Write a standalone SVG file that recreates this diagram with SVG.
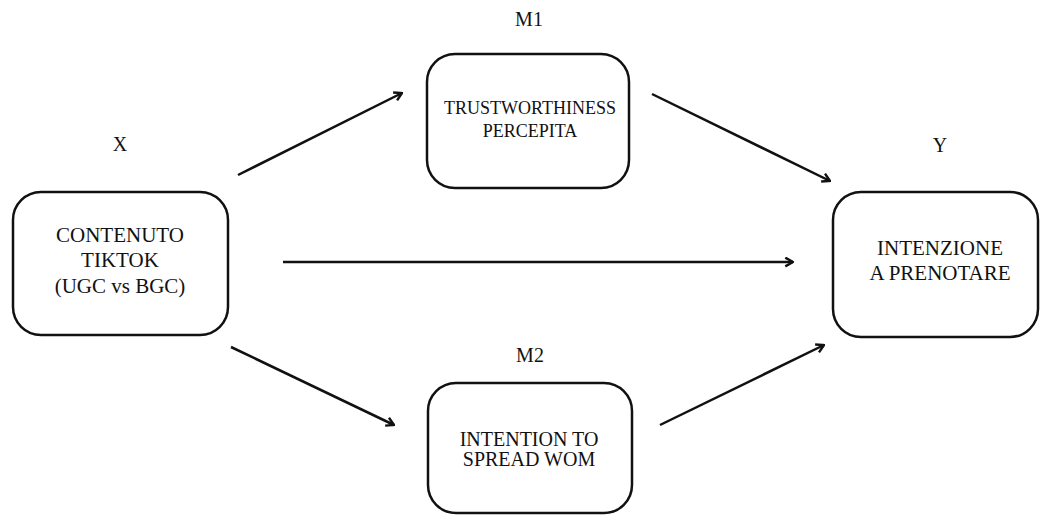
<svg xmlns="http://www.w3.org/2000/svg" width="1041" height="515" viewBox="0 0 1041 515">
<style>
.box{fill:#fff;stroke:#111;stroke-width:2.5}
.t{font-family:"Liberation Serif","Times New Roman",serif;fill:#111;text-anchor:middle}
.conn{stroke:#111;stroke-width:2.5;fill:none;marker-end:url(#arr)}
</style>
<defs>
<marker id="arr" viewBox="0 0 10 10" refX="9" refY="5" markerWidth="4.4" markerHeight="4.4" markerUnits="strokeWidth" orient="auto">
<path d="M2,1 L9,5 L2,9" fill="none" stroke="#111" stroke-width="2.2" stroke-linejoin="miter"/>
</marker>
</defs>
<rect width="1041" height="515" fill="#fff"/>
<g id="connectors">
<line class="conn" x1="238" y1="175" x2="402" y2="93"/>
<line class="conn" x1="652" y1="94" x2="830" y2="181"/>
<line class="conn" x1="283" y1="262" x2="793" y2="262"/>
<line class="conn" x1="231" y1="347" x2="394" y2="425"/>
<line class="conn" x1="660" y1="425" x2="824" y2="345"/>
</g>
<g id="nodeX">
<text class="t" x="120" y="151" font-size="20">X</text>
<rect class="box" x="13" y="192" width="215" height="143" rx="28"/>
<text class="t" x="120" y="242" font-size="21">CONTENUTO</text>
<text class="t" x="120" y="267" font-size="21">TIKTOK</text>
<text class="t" x="120" y="293" font-size="21">(UGC vs BGC)</text>
</g>
<g id="nodeM1">
<text class="t" x="529" y="26" font-size="20">M1</text>
<rect class="box" x="427" y="54" width="202" height="134" rx="28"/>
<text class="t" x="530" y="114" font-size="18">TRUSTWORTHINESS</text>
<text class="t" x="530" y="137" font-size="18">PERCEPITA</text>
</g>
<g id="nodeY">
<text class="t" x="940" y="152" font-size="20">Y</text>
<rect class="box" x="833" y="192" width="205" height="145" rx="28"/>
<text class="t" x="940" y="255" font-size="21">INTENZIONE</text>
<text class="t" x="940" y="280" font-size="21">A PRENOTARE</text>
</g>
<g id="nodeM2">
<text class="t" x="530" y="362" font-size="20">M2</text>
<rect class="box" x="428" y="383" width="204" height="130" rx="28"/>
<text class="t" x="529" y="446" font-size="20">INTENTION TO</text>
<text class="t" x="529" y="466" font-size="20">SPREAD WOM</text>
</g>
</svg>
